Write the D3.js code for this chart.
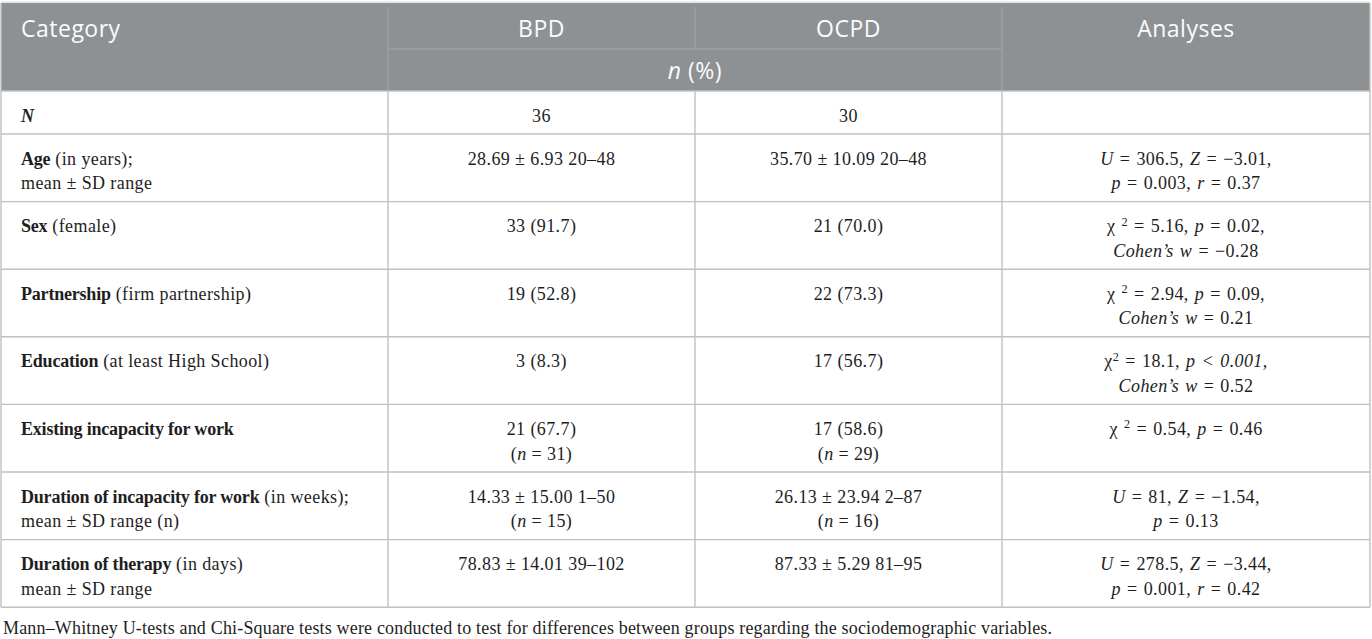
<!DOCTYPE html>
<html>
<head>
<meta charset="utf-8">
<script src="https://cdn.jsdelivr.net/npm/d3@7"></script>
<style>
  body { margin: 0; background: #fff; }
  text { white-space: pre; }
</style>
</head>
<body>
<div id="chart-area"></div>
<script>
// Table content (markup: ** bold, _ italic, ^ superscript, \n new line)
var columns = ["Category", "BPD", "OCPD", "Analyses"];
var subHeader = "_n_ (%)";

var categories = [
    "**_N_**",
    "**Age** (in years);\nmean ± SD range",
    "**Sex** (female)",
    "**Partnership** (firm partnership)",
    "**Education** (at least High School)",
    "**Existing incapacity for work**",
    "**Duration of incapacity for work** (in weeks);\nmean ± SD range (n)",
    "**Duration of therapy** (in days)\nmean ± SD range"
];

var bpd = [
    "36",
    "28.69 ± 6.93 20–48",
    "33 (91.7)",
    "19 (52.8)",
    "3 (8.3)",
    "21 (67.7)\n(_n_ = 31)",
    "14.33 ± 15.00 1–50\n(_n_ = 15)",
    "78.83 ± 14.01 39–102"
];

var ocpd = [
    "30",
    "35.70 ± 10.09 20–48",
    "21 (70.0)",
    "22 (73.3)",
    "17 (56.7)",
    "17 (58.6)\n(_n_ = 29)",
    "26.13 ± 23.94 2–87\n(_n_ = 16)",
    "87.33 ± 5.29 81–95"
];

var analyses = [
    "",
    "_U_ = 306.5, _Z_ = −3.01,\n_p_ = 0.003, _r_ = 0.37",
    "χ ^2^ = 5.16, _p_ = 0.02,\n_Cohen’s w_ = −0.28",
    "χ ^2^ = 2.94, _p_ = 0.09,\n_Cohen’s w_ = 0.21",
    "χ^2^ = 18.1, _p < 0.001,_\n_Cohen’s w_ = 0.52",
    "χ ^2^ = 0.54, _p_ = 0.46",
    "_U_ = 81, _Z_ = −1.54,\n_p_ = 0.13",
    "_U_ = 278.5, _Z_ = −3.44,\n_p_ = 0.001, _r_ = 0.42"
];

var footnote = "Mann–Whitney U-tests and Chi-Square tests were conducted to test for differences between groups regarding the sociodemographic variables.";

// Layout
var width = 1372, height = 639;
var colEdges = [1, 388, 695, 1002, 1370];
var headTop = 3, headMid = 49, headBottom = 91;
var lineH = 24.6, padY = 18.4, firstBaseline = 30.5;
var fontSize = 18;
var serif = "'Liberation Serif', 'Times New Roman', serif";
var sans = "'Open Sans', 'Noto Sans', sans-serif";

var svg = d3.select("#chart-area")
    .append("svg")
    .attr("width", width)
    .attr("height", height);

var rows = categories.map(function(c, i) {
    return [c, bpd[i], ocpd[i], analyses[i]].map(function(s) { return s.split("\n"); });
});
var rowHeights = rows.map(function(r) {
    return padY + lineH * d3.max(r, function(cell) { return cell.length; });
});
var rowTops = [headBottom].concat(Array.from(d3.cumsum(rowHeights), function(v) { return headBottom + v; }));
var tableBottom = rowTops[rowTops.length - 1];

function colCenter(i) { return (colEdges[i] + colEdges[i + 1]) / 2; }

// write a marked-up string into a text element as tspans
function richText(sel, str) {
    var bold = false, italic = false, sup = false, shift = 0;
    str.split(/(\*\*|_|\^)/).forEach(function(p) {
        if (p === "**") { bold = !bold; return; }
        if (p === "_") { italic = !italic; return; }
        if (p === "^") { sup = !sup; return; }
        if (!p) return;
        var t = sel.append("tspan").text(p);
        if (bold) t.attr("font-weight", "bold").attr("letter-spacing", -0.2);
        if (italic) t.attr("font-style", "italic");
        if (sup) t.attr("font-size", "68%");
        var target = sup ? -6.5 : 0;
        if (target !== shift) { t.attr("dy", target - shift); shift = target; }
    });
}

// Header
svg.append("line")
    .attr("x1", colEdges[0]).attr("x2", colEdges[4])
    .attr("y1", headTop - 1).attr("y2", headTop - 1)
    .attr("stroke", "#cfd5cf")
    .attr("stroke-width", 1.2);

svg.append("rect")
    .attr("x", colEdges[0])
    .attr("y", headTop)
    .attr("width", colEdges[4] - colEdges[0])
    .attr("height", headBottom - headTop)
    .attr("fill", "#8d9194");

var headLines = svg.append("g")
    .attr("stroke", "#a3a6a8")
    .attr("stroke-width", 1.2);
[1, 3].forEach(function(i) {
    headLines.append("line")
        .attr("x1", colEdges[i]).attr("x2", colEdges[i])
        .attr("y1", headTop + 4).attr("y2", headBottom);
});
headLines.append("line")
    .attr("x1", colEdges[2]).attr("x2", colEdges[2])
    .attr("y1", headTop + 4).attr("y2", headMid);
headLines.append("line")
    .attr("x1", colEdges[1]).attr("x2", colEdges[3])
    .attr("y1", headMid).attr("y2", headMid);

svg.append("g")
    .selectAll("text")
    .data(columns)
    .enter().append("text")
    .attr("x", function(d, i) { return i === 0 ? 21 : colCenter(i); })
    .attr("y", (headTop + headMid) / 2 + 11)
    .attr("text-anchor", function(d, i) { return i === 0 ? "start" : "middle"; })
    .attr("font-family", sans)
    .attr("font-size", 23)
    .attr("letter-spacing", 0.5)
    .attr("fill", "#fbfbfb")
    .text(function(d) { return d; });

svg.append("text")
    .attr("x", colEdges[2])
    .attr("y", (headMid + headBottom) / 2 + 9)
    .attr("text-anchor", "middle")
    .attr("font-family", sans)
    .attr("font-size", 23)
    .attr("letter-spacing", 0.5)
    .attr("fill", "#fbfbfb")
    .call(richText, subHeader);

// Body grid
var grid = svg.append("g")
    .attr("stroke", "#c0c0c0")
    .attr("stroke-width", 1.4);
rowTops.forEach(function(y) {
    grid.append("line")
        .attr("x1", colEdges[0]).attr("x2", colEdges[4])
        .attr("y1", y).attr("y2", y);
});
colEdges.forEach(function(x, i) {
    grid.append("line")
        .attr("x1", x).attr("x2", x)
        .attr("y1", (i === 0 || i === 4) ? headTop : headBottom)
        .attr("y2", tableBottom);
});

// Body cells
var rowG = svg.append("g")
    .attr("font-family", serif)
    .attr("font-size", fontSize)
    .attr("fill", "#1e1e1e")
    .selectAll("g")
    .data(rows)
    .enter().append("g");

rowG.each(function(r, ri) {
    var g = d3.select(this);
    r.forEach(function(cell, ci) {
        cell.forEach(function(line, li) {
            if (!line) return;
            g.append("text")
                .attr("x", ci === 0 ? 21 : colCenter(ci))
                .attr("y", rowTops[ri] + firstBaseline + li * lineH)
                .attr("text-anchor", ci === 0 ? "start" : "middle")
                .attr("letter-spacing", 0.4)
                .attr("word-spacing", ci === 3 ? 1.2 : 0)
                .call(richText, line);
        });
    });
});

// Footnote
svg.append("text")
    .attr("x", 3)
    .attr("y", tableBottom + 27)
    .attr("font-family", serif)
    .attr("font-size", 18)
    .attr("letter-spacing", 0.17)
    .attr("fill", "#1e1e1e")
    .text(footnote);
</script>
</body>
</html>
